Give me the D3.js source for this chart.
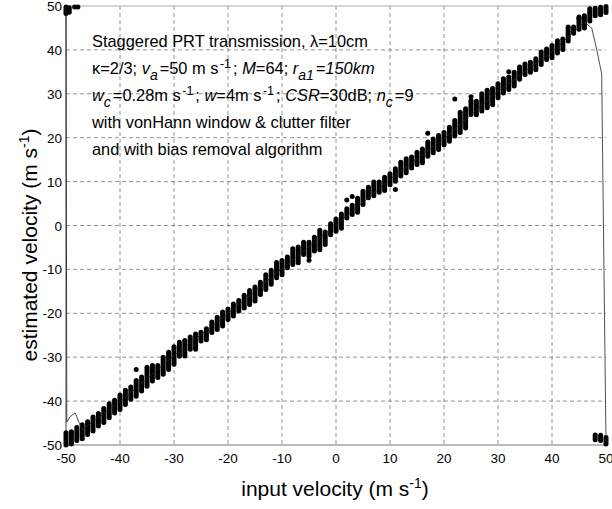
<!DOCTYPE html>
<html>
<head>
<meta charset="utf-8">
<title>Staggered PRT velocity estimates</title>
<script src="https://cdn.jsdelivr.net/npm/d3@7"></script>
<style>
  body { margin: 0; background: #fff; }
  text { font-family: "Liberation Sans", Arial, Helvetica, sans-serif; fill: #000; }
</style>
</head>
<body>
<div id="chart"></div>
<script>

// input velocities (m/s), one cluster of estimates per value
var inputV = [-50,-49,-48,-47,-46,-45,-44,-43,-42,-41,-40,-39,-38,-37,-36,-35,-34,-33,-32,-31,
  -30,-29,-28,-27,-26,-25,-24,-23,-22,-21,-20,-19,-18,-17,-16,-15,-14,-13,-12,-11,
  -10,-9,-8,-7,-6,-5,-4,-3,-2,-1,0,1,2,3,4,5,6,7,8,9,
  10,11,12,13,14,15,16,17,18,19,20,21,22,23,24,25,26,27,28,29,
  30,31,32,33,34,35,36,37,38,39,40,41,42,43,44,45,46,47,48,49,50];

// lowest / highest estimate in each cluster
var estLo = [-50,-49.8,-49.0,-48.6,-47.6,-46.8,-45.7,-44.9,-43.8,-42.7,
  -41.9,-40.8,-39.6,-38.9,-37.7,-36.6,-35.4,-34.6,-33.9,-32.8,
  -31.6,-29.8,-29.7,-28.2,-28.2,-26.3,-26.0,-24.4,-23.7,-22.9,
  -21.4,-20.6,-19.5,-18.8,-18.0,-17.2,-15.7,-14.6,-13.4,-11.9,
  -11.2,-9.6,-8.9,-8.5,-6.6,-7.0,-5.8,-5.5,-4.3,-2.1,
  -1.3,-0.6,1.7,2.5,3.0,4.8,6.3,6.8,7.6,8.0,
  9.3,10.1,11.3,12.0,13.1,13.9,14.3,15.8,16.6,17.3,
  18.4,19.2,20.4,21.2,22.2,25.3,25.2,26.1,26.8,27.5,
  29.1,30.2,31.0,31.8,33.3,34.4,34.9,35.5,36.7,37.8,
  38.2,39.3,40.1,42.0,43.8,44.7,45.0,46.6,47.8,48.0,48.5];
var estHi = [-47.2,-47.0,-46.0,-45.4,-44.7,-43.6,-42.8,-41.7,-40.6,-39.8,
  -38.6,-37.5,-36.8,-35.3,-34.5,-32.3,-31.9,-31.9,-30.0,-28.9,
  -27.6,-26.6,-26.2,-25.4,-24.7,-24.3,-23.5,-22.0,-20.9,-19.7,
  -19.0,-17.9,-17.1,-15.9,-14.8,-14.0,-12.9,-11.2,-10.2,-8.4,
  -8.0,-7.2,-5.3,-4.9,-3.8,-3.8,-2.7,-1.1,-1.5,0.4,
  1.5,2.6,3.8,4.6,6.2,7.8,8.7,9.9,9.9,11.0,
  11.8,12.9,14.4,15.2,15.6,16.7,17.4,19.0,19.7,20.5,
  21.2,22.4,23.9,25.8,26.6,28.5,28.3,30.0,30.8,31.2,
  32.3,33.4,33.8,34.9,36.1,36.8,37.2,38.0,39.5,40.2,
  41.0,42.1,42.5,45.2,45.2,47.5,47.8,49.4,49.5,49.7,49.9];

// aliased estimates folded to the opposite end of the interval
var wrapV  = [-50, -49.4, 48, 49, 50];
var wrapLo = [48.3, 48.6, -48.8, -49.0, -49.8];
var wrapHi = [49.8, 49.6, -47.7, -47.8, -48.3];

// isolated estimates
var outV   = [-48.4, -47.8, -37, -5, 2, 3, 11, 17, 22, 25, 32, 45];
var outEst = [49.8, 49.8, -32.8, -7.9, 5.8, 6.6, 8.2, 21.0, 28.8, 29.3, 35.0, 47.2];

// mean estimate (thin line)
var meanV   = [-50, -49.85, -49.3, -48.3, -47.5, -47, -40, -30, -20, -10, 0, 10, 20, 30, 40, 46, 47.35, 48.3, 49.2, 50];
var meanEst = [49.6, -44.8, -43.6, -42.7, -45.1, -46.5, -40.2, -29.6, -20.1, -9.8, 0.1, 10.5, 19.8, 30.6, 39.6, 46.3, 45.0, 40.0, 34.5, -49.5];

var ticks = [-50,-40,-30,-20,-10,0,10,20,30,40,50];
var grid  = [-40,-30,-20,-10,0,10,20,30,40];

// annotation lines: [text, style]
var notes = [
  [["Staggered PRT transmission, ", ""], ["\u03bb", ""], ["=10cm", ""]],
  [["\u03ba=2/3; ", ""], ["v", "i"], ["a", "isub"], ["=50 m s", ""], ["-1", "sup"], ["; ", ""], ["M", "i"], ["=64; ", ""], ["r", "i"], ["a1", "isub"], ["=150km", "i"]],
  [["w", "i"], ["c", "isub"], ["=0.28m s", ""], ["-1", "sup"], ["; ", ""], ["w", "i"], ["=4m s", ""], ["-1", "sup"], ["; ", ""], ["CSR", "i"], ["=30dB; ", ""], ["n", "i"], ["c", "isub"], ["=9", ""]],
  [[" with vonHann window & clutter filter", ""]],
  [[" and with bias removal algorithm", ""]]
];

var W = 612, H = 509;
var x = d3.scaleLinear().domain([-50, 50]).range([66, 606]);
var y = d3.scaleLinear().domain([-50, 50]).range([445, 6]);

var svg = d3.select("#chart").append("svg")
    .attr("width", W).attr("height", H);

// grid
svg.selectAll("line.gx").data(grid).enter().append("line")
    .attr("x1", function(d){ return x(d); }).attr("x2", function(d){ return x(d); })
    .attr("y1", y(50)).attr("y2", y(-50))
    .attr("stroke", "#7a7a7a").attr("stroke-width", 0.8).attr("stroke-dasharray", "4,3");
svg.selectAll("line.gy").data(grid).enter().append("line")
    .attr("y1", function(d){ return y(d); }).attr("y2", function(d){ return y(d); })
    .attr("x1", x(-50)).attr("x2", x(50))
    .attr("stroke", "#7a7a7a").attr("stroke-width", 0.8).attr("stroke-dasharray", "4,3");

// frame
svg.append("line").attr("x1", x(-50)).attr("x2", x(50)).attr("y1", y(50)).attr("y2", y(50))
    .attr("stroke", "#aaa").attr("stroke-width", 1);
svg.append("line").attr("x1", x(-50)).attr("x2", x(50)).attr("y1", y(-50)).attr("y2", y(-50))
    .attr("stroke", "#777").attr("stroke-width", 1);
svg.append("line").attr("x1", x(-50)).attr("x2", x(-50)).attr("y1", y(50)).attr("y2", y(-50))
    .attr("stroke", "#444").attr("stroke-width", 1);

// tick labels
svg.selectAll("text.xt").data(ticks).enter().append("text")
    .attr("x", function(d){ return x(d); }).attr("y", 463)
    .attr("text-anchor", "middle").attr("font-size", 13.5)
    .text(function(d){ return d; });
svg.selectAll("text.yt").data(ticks).enter().append("text")
    .attr("x", 62).attr("y", function(d){ return y(d) + 5; })
    .attr("text-anchor", "end").attr("font-size", 13.5)
    .text(function(d){ return d; });

// clusters of estimates
var cl = svg.append("g").attr("stroke", "#000").attr("stroke-width", 5).attr("stroke-linecap", "round");
cl.selectAll("line.c").data(inputV).enter().append("line")
    .attr("x1", function(d){ return x(d); }).attr("x2", function(d){ return x(d); })
    .attr("y1", function(d, i){ return y(estLo[i]); })
    .attr("y2", function(d, i){ return y(estHi[i]); });
cl.selectAll("line.w").data(wrapV).enter().append("line")
    .attr("x1", function(d){ return x(d); }).attr("x2", function(d){ return x(d); })
    .attr("y1", function(d, i){ return y(wrapLo[i]); })
    .attr("y2", function(d, i){ return y(wrapHi[i]); });

svg.selectAll("circle.o").data(outV).enter().append("circle")
    .attr("cx", function(d){ return x(d); })
    .attr("cy", function(d, i){ return y(outEst[i]); })
    .attr("r", 2.5).attr("fill", "#000");

// mean line
var line = d3.line()
    .x(function(d){ return x(d); })
    .y(function(d, i){ return y(meanEst[i]); });
svg.append("path").datum(meanV).attr("d", line)
    .attr("fill", "none").attr("stroke", "#222").attr("stroke-width", 0.8);

// annotation text
var baselines = [46.7, 74, 101, 128.4, 155.4];
notes.forEach(function(parts, k) {
  var t = svg.append("text").attr("x", 92).attr("y", baselines[k]).attr("font-size", 16.4);
  var shift = 0, gap = 0;
  parts.forEach(function(p) {
    var dy = 0, sz = null;
    if (p[1] === "sub" || p[1] === "isub") { dy = 6 - shift; shift = 6; sz = 14; }
    else if (p[1] === "sup") { dy = -6 - shift; shift = -6; sz = 12.5; }
    else { dy = -shift; shift = 0; }
    var s = t.append("tspan").attr("dy", dy).attr("dx", gap).text(p[0]);
    gap = (p[1] === "sub" || p[1] === "isub" || p[1] === "sup") ? 2 : 0;
    if (p[1] === "sup") s.attr("dx", 1.5);
    if (sz) s.attr("font-size", sz);
    if (p[1] === "i" || p[1] === "isub") s.attr("font-style", "italic");
  });
});

// axis titles
var xt = svg.append("text").attr("x", 335).attr("y", 496)
    .attr("text-anchor", "middle").attr("font-size", 21);
xt.append("tspan").text("input velocity (m s");
xt.append("tspan").attr("dy", -8).attr("font-size", 14).text("-1");
xt.append("tspan").attr("dy", 8).text(")");

var yt = svg.append("text").attr("transform", "translate(37,245) rotate(-90)")
    .attr("text-anchor", "middle").attr("font-size", 21);
yt.append("tspan").text("estimated velocity (m s");
yt.append("tspan").attr("dy", -8).attr("font-size", 14).text("-1");
yt.append("tspan").attr("dy", 8).text(")");

</script>
</body>
</html>
